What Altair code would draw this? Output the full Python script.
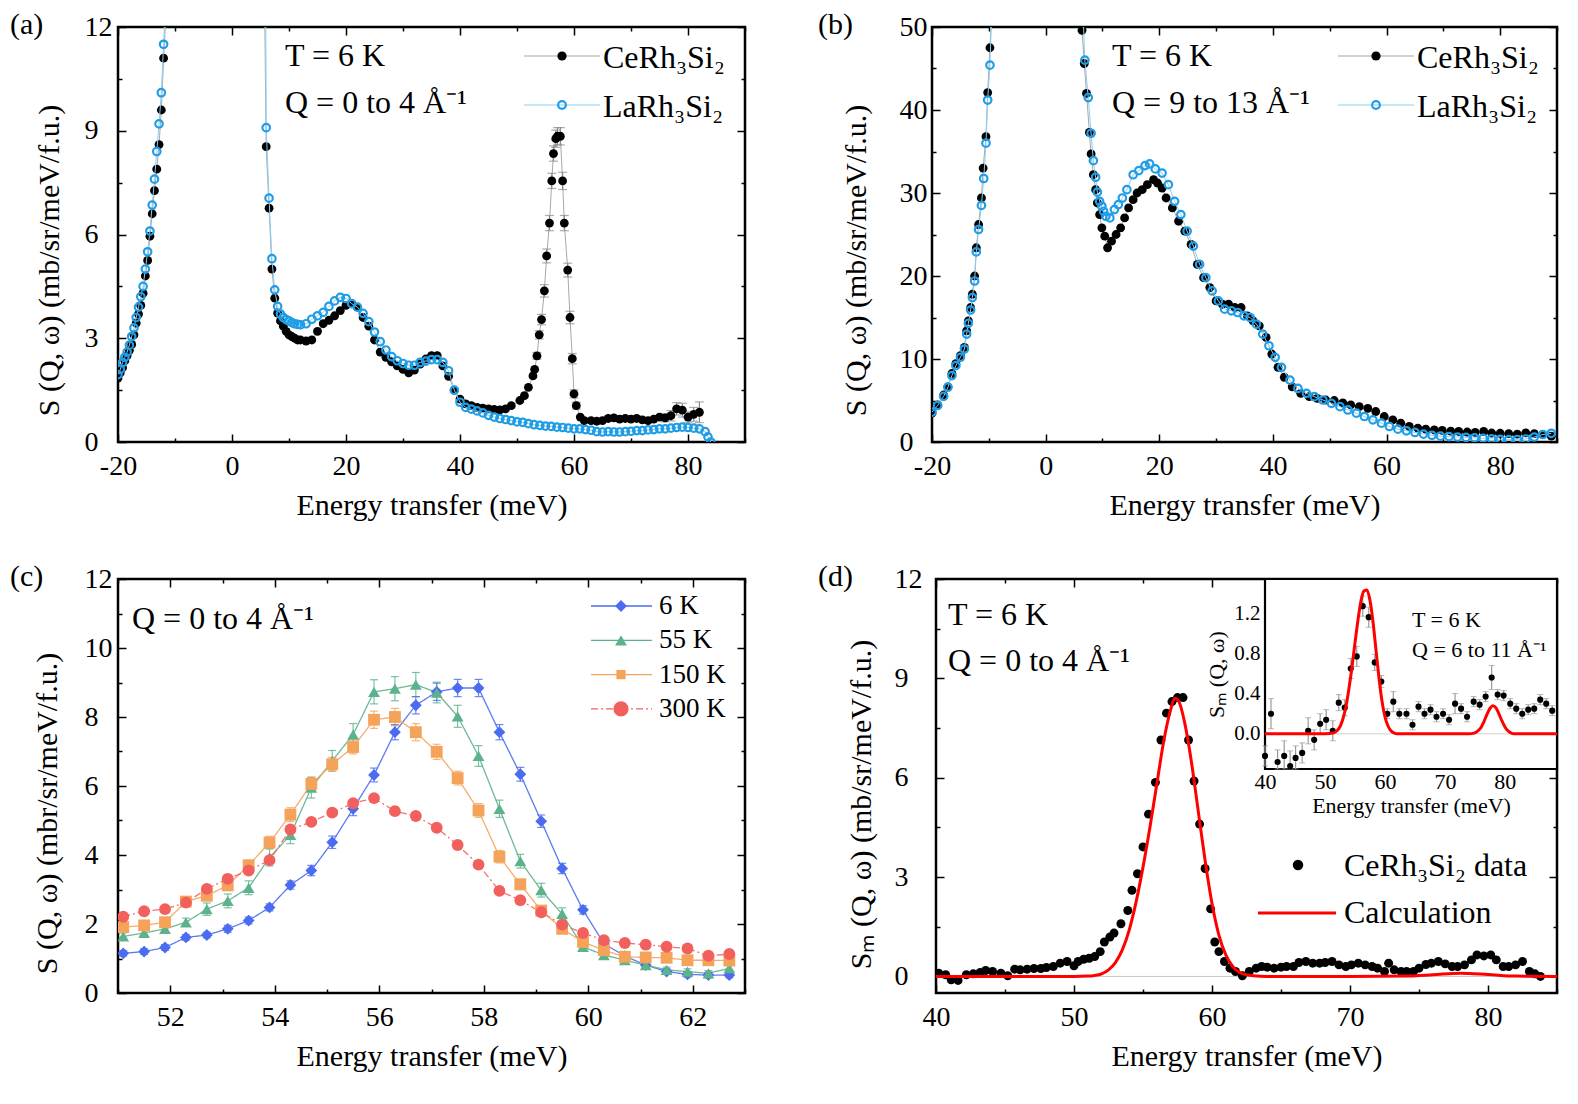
import altair as alt
import pandas as pd

FONT = "Liberation Serif"
TICK_FS = 28
TITLE_FS = 30
ANN_FS = 32
TK = 8
TKm = 4

CE = "CeRh\u2083Si\u2082"
LA = "LaRh\u2083Si\u2082"
AINV = "\u00c5\u207b\u00b9"
XT = "Energy transfer (meV)"

# ---------------- panel (a) data: Q = 0-4 A^-1 ----------------
A_CE_E = [-20.0, -19.6, -19.2, -18.8, -18.4, -18.0, -17.6, -17.2, -16.8, -16.4, -16.0, -15.6, -15.2,
          -14.8, -14.4, -14.0, -13.6, -13.2, -12.8, -12.4, -12.0, -11.6, -11.0, -10.0, 0.0, 5.5,
          6.0, 6.5, 7.0, 7.5, 8.0, 8.5, 9.0, 9.5, 10.0, 10.5, 11.0, 11.5, 12.0,
          13, 14, 15, 16, 17, 18, 19, 20, 21, 22, 23, 24, 25, 26, 27, 28, 29, 30, 31, 32, 33, 34, 35,
          36, 37, 38, 39, 40, 41, 42, 43, 44, 45, 46, 47, 48, 49,
          50.5, 51.3, 52.0, 52.8, 53.1, 53.5, 53.9, 54.3, 54.8, 55.2, 55.7, 56.1, 56.4, 56.8, 57.1,
          57.6, 58.0, 58.3, 58.9, 59.3, 59.7, 60.0, 60.4, 61.1, 61.8,
          63, 64, 65, 66, 67, 68, 69, 70, 71, 72, 73, 74, 75, 76, 77, 78, 79, 80, 81, 82]
A_CE_V = [1.85, 2.0, 2.15, 2.35, 2.5, 2.65, 2.82, 3.1, 3.44, 3.7, 3.95, 4.3, 4.8, 5.25, 5.95, 6.6,
          7.27, 7.89, 8.6, 9.6, 11.1, 12.3, 15, 22, 300, 16,
          8.54, 6.76, 5.0, 4.16, 3.73, 3.5, 3.35, 3.2, 3.1, 3.05, 3.0, 2.95, 2.95,
          2.92, 2.95, 3.2, 3.42, 3.52, 3.65, 3.8, 3.95, 4.0, 3.9, 3.6, 3.35, 2.95, 2.6, 2.45, 2.32,
          2.2, 2.1, 2.0, 2.08, 2.25, 2.4, 2.5, 2.5, 2.2, 1.9, 1.5, 1.24, 1.1, 1.05, 1.0, 0.98, 0.96,
          0.94, 0.93, 0.96, 1.05,
          1.2, 1.34, 1.58, 1.91, 2.1, 2.49, 3.1, 3.54, 4.37, 5.38, 6.33, 7.55, 8.34, 8.77, 8.84, 8.84,
          7.55, 6.33, 4.97, 3.6, 2.41, 1.39, 1.05, 0.72, 0.62,
          0.62, 0.6, 0.62, 0.68, 0.7, 0.66, 0.68, 0.66, 0.68, 0.64, 0.62, 0.66, 0.72, 0.7, 0.76, 0.96,
          0.92, 0.72, 0.8, 0.86]
A_CE_ERR_E = [53.5, 53.9, 54.3, 54.8, 55.2, 55.7, 56.1, 56.4, 56.8, 57.1, 57.6, 58.0, 58.3, 58.9,
              59.3, 59.7, 60.0, 60.4, 76, 77, 78, 79, 80, 81, 82]
A_CE_ERR = [0.1, 0.12, 0.15, 0.18, 0.2, 0.22, 0.22, 0.22, 0.25, 0.25, 0.25, 0.25, 0.22, 0.2, 0.18,
            0.15, 0.12, 0.1, 0.12, 0.15, 0.18, 0.2, 0.15, 0.2, 0.3]
A_LA_E = [-20.0, -19.6, -19.2, -18.8, -18.4, -18.0, -17.6, -17.2, -16.8, -16.4, -16.0, -15.6, -15.2,
          -14.8, -14.4, -14.0, -13.6, -13.2, -12.8, -12.4, -12.0, -11.6, -11.0, -10.0, 0.0, 5.5,
          6.0, 6.5, 7.0, 7.5, 8.0, 8.5, 9.0, 9.5, 10.0, 10.5, 11.0, 11.5, 12.0,
          13, 14, 15, 16, 17, 18, 19, 20, 21, 22, 23, 24, 25, 26, 27, 28, 29, 30, 31, 32, 33, 34, 35,
          36, 37, 38, 39, 40, 41, 42, 43, 44, 45, 46, 47, 48, 49, 50, 51, 52, 53, 54, 55, 56, 57, 58,
          59, 60, 61, 62, 63, 64, 65, 66, 67, 68, 69, 70, 71, 72, 73, 74, 75, 76, 77, 78, 79, 80, 81,
          82, 83, 83.5, 84.0]
A_LA_V = [1.95, 2.1, 2.3, 2.45, 2.6, 2.8, 3.05, 3.3, 3.6, 3.9, 4.2, 4.5, 5.0, 5.5, 6.1, 6.85, 7.6,
          8.4, 9.2, 10.1, 11.5, 13.0, 16, 23, 320, 30,
          9.09, 7.05, 5.3, 4.4, 3.92, 3.7, 3.6, 3.54, 3.5, 3.45, 3.42, 3.4, 3.39,
          3.42, 3.55, 3.65, 3.75, 3.92, 4.08, 4.18, 4.15, 4.0, 3.9,
          3.72, 3.48, 3.18, 2.9, 2.66, 2.47, 2.35, 2.27, 2.22, 2.22,
          2.3, 2.34, 2.38, 2.38, 2.3, 2.06, 1.5, 1.15, 1.0, 0.95,
          0.9, 0.84, 0.77, 0.72, 0.68, 0.65, 0.62, 0.58, 0.57, 0.53,
          0.5, 0.48, 0.46, 0.45, 0.43, 0.42, 0.4, 0.38, 0.38, 0.36,
          0.34, 0.3, 0.29, 0.3, 0.29, 0.29, 0.3, 0.31, 0.33, 0.33,
          0.35, 0.36, 0.38, 0.38, 0.4, 0.42, 0.43, 0.42, 0.4, 0.38,
          0.3, 0.15, 0.0]

# ---------------- panel (b) data: Q = 9-13 A^-1 ----------------
B_CE_E = [-20.0, -19.0, -17.95, -17.2, -16.5, -15.8, -15.0, -14.3, -13.9, -13.6, -13.2, -12.9, -12.5,
          -12.2, -11.8, -11.3, -11.0, -10.5, -10.2, -9.8, -9.0, 0.0, 5.5,
          6.4, 6.8, 7.2, 7.7, 8.0, 8.4, 8.8, 9.1, 9.5, 9.9, 10.4, 10.9, 11.6, 12.4, 13.2, 13.9, 14.6,
          15.4, 16.1, 17.0, 17.9, 19.0, 19.7, 20.5, 21.2, 22.3, 23.4, 24.5, 25.6, 26.7, 27.8, 28.9,
          30.0, 31.1, 32.2, 33.3, 34.4, 35.5, 36.5, 37.6, 38.8, 39.8, 40.9, 42.0, 43.4, 44.9, 46.4,
          47.8, 49.3, 50.8, 52.3, 53.7, 55.2, 56.7, 58.1, 59.6, 61.1, 62.5, 64.0, 65.5, 66.9, 68.4,
          69.8, 71.3, 72.7, 74.2, 75.6, 77.1, 78.5, 80.0, 81.5, 83.0, 84.5, 86.0, 87.5, 89.0]
B_CE_V = [3.47, 4.46, 5.66, 6.65, 8.25, 9.44, 10.4, 11.4, 13.4, 14.6, 16.2, 17.8, 20.0, 23.4, 26.2,
          29.4, 33.0, 36.8, 42.1, 47.5, 60, 800, 75,
          49.6, 45.6, 42.0, 37.3, 34.7, 32.2, 30.4, 28.8, 27.4, 25.8, 24.8, 23.4, 24.2, 25.0, 25.8,
          27.0, 28.2, 29.2, 30.0, 30.4, 31.0, 31.6, 31.2, 30.6, 29.4, 28.2, 26.6, 25.4, 23.8, 21.4,
          19.8, 18.6, 17.0, 16.6, 16.6, 16.2, 16.2, 15.2, 14.6, 14.0, 12.6, 10.6, 9.0, 7.8, 6.65,
          5.86, 5.46, 5.26, 5.06, 5.0, 4.7, 4.46, 4.26, 4.06, 3.67, 3.07, 2.67, 2.27, 1.87, 1.67,
          1.55, 1.45, 1.4, 1.32, 1.27, 1.2, 1.16, 1.27, 1.08, 1.05, 1.0, 0.95, 1.1, 1.0, 0.9, 0.7]
B_LA_E = [-20.0, -19.0, -17.95, -17.2, -16.5, -15.8, -15.0, -14.3, -13.9, -13.6, -13.2, -12.9, -12.5,
          -12.2, -11.8, -11.3, -10.9, -10.5, -10.2, -9.8, -9.0, 0.0, 6.0,
          6.9, 7.5, 8.0, 8.4, 8.8, 9.1, 9.5, 9.9, 10.2, 10.6, 11.3, 12.1, 12.8, 13.5, 14.3, 15.4,
          16.4, 17.5, 18.3, 19.3, 20.5, 21.6, 22.7, 23.8, 24.9, 26.0, 27.1, 28.2, 29.3, 30.4, 31.5,
          32.7, 33.8, 34.9, 36.0, 37.1, 38.2, 39.3, 40.4, 41.5, 43.0, 44.4, 45.9, 47.3, 48.8, 50.3,
          51.8, 53.2, 54.7, 56.1, 57.6, 59.1, 60.5, 62.0, 63.5, 65.0, 66.5, 68.0, 69.5, 71.0, 72.5,
          74.0, 75.5, 77.0, 78.5, 80.0, 81.5, 83.0, 84.5, 86.0, 87.5, 89.0]
B_LA_V = [3.6, 4.4, 5.5, 6.6, 8.0, 9.2, 10.2, 11.2, 13.0, 14.3, 15.9, 17.4, 19.4, 22.9, 25.6, 28.5,
          31.75, 36.0, 41.2, 45.4, 62, 800, 62,
          46.0, 41.5, 37.2, 33.9, 31.9, 30.1, 29.0, 28.4, 27.8, 27.2, 27.0, 28.0, 28.6, 29.4, 30.4,
          32.2, 32.7, 33.3, 33.5, 32.9, 32.4, 31.0, 29.0, 27.4, 25.4, 23.6, 21.4, 19.8, 18.2, 17.0,
          16.0, 15.8, 15.6, 15.2, 15.0, 14.2, 13.0, 11.6, 10.2, 9.0, 7.45, 6.45, 5.86, 5.46, 5.06,
          4.66, 4.26, 3.86, 3.47, 3.07, 2.67, 2.27, 1.87, 1.55, 1.35, 1.15, 0.95, 0.8, 0.7, 0.65,
          0.6, 0.55, 0.5, 0.45, 0.38, 0.32, 0.28, 0.3, 0.36, 0.6, 0.9, 1.05]

# ---------------- panel (c) data: temperature dependence ----------------
C_E = [51.1, 51.5, 51.9, 52.3, 52.7, 53.1, 53.5, 53.9, 54.3, 54.7, 55.1, 55.5, 55.9, 56.3, 56.7,
       57.1, 57.5, 57.9, 58.3, 58.7, 59.1, 59.5, 59.9, 60.3, 60.7, 61.1, 61.5, 61.9, 62.3, 62.7]
C_T = ["6 K", "55 K", "150 K", "300 K"]
C_6K = [1.15, 1.2, 1.32, 1.61, 1.68, 1.86, 2.1, 2.48, 3.13, 3.55, 4.37, 5.34, 6.32, 7.56, 8.34, 8.73,
        8.84, 8.84, 7.56, 6.34, 4.98, 3.61, 2.41, 1.43, 1.07, 0.81, 0.62, 0.54, 0.52, 0.52]
C_55K = [1.64, 1.74, 1.86, 2.05, 2.43, 2.67, 3.05, 3.93, 4.58, 5.95, 6.73, 7.49, 8.73, 8.82, 8.94,
         8.71, 8.02, 6.87, 5.34, 3.82, 2.98, 2.29, 1.34, 1.1, 0.95, 0.81, 0.67, 0.62, 0.57, 0.72]
C_150K = [1.91, 1.96, 2.05, 2.65, 2.82, 3.12, 3.7, 4.36, 5.17, 6.06, 6.63, 7.13, 7.92, 8.0, 7.56,
          6.99, 6.23, 5.29, 3.95, 3.15, 2.39, 1.86, 1.48, 1.24, 1.05, 1.03, 1.02, 0.95, 0.95, 0.94]
C_300K = [2.21, 2.37, 2.43, 2.62, 3.02, 3.31, 3.55, 3.85, 4.74, 4.96, 5.23, 5.5, 5.65, 5.27, 5.13,
          4.79, 4.29, 3.72, 2.96, 2.69, 2.34, 1.98, 1.74, 1.53, 1.45, 1.4, 1.34, 1.29, 1.08, 1.13]
C_6K_ERR = [0.08, 0.08, 0.08, 0.08, 0.08, 0.1, 0.1, 0.1, 0.12, 0.15, 0.18, 0.2, 0.2, 0.22, 0.25,
            0.25, 0.25, 0.25, 0.22, 0.2, 0.18, 0.15, 0.12, 0.1, 0.08, 0.08, 0.08, 0.08, 0.08, 0.08]
C_55K_ERR = [0.1, 0.1, 0.1, 0.12, 0.18, 0.2, 0.2, 0.25, 0.25, 0.3, 0.3, 0.32, 0.35, 0.35, 0.35,
             0.3, 0.32, 0.3, 0.25, 0.2, 0.2, 0.18, 0.12, 0.1, 0.1, 0.08, 0.08, 0.08, 0.08, 0.08]
C_150K_ERR = [0.1, 0.1, 0.1, 0.12, 0.12, 0.15, 0.15, 0.18, 0.2, 0.2, 0.2, 0.2, 0.25, 0.25, 0.25,
              0.22, 0.2, 0.2, 0.18, 0.15, 0.12, 0.12, 0.1, 0.1, 0.08, 0.08, 0.08, 0.08, 0.08, 0.08]
C_300K_ERR = [0.1, 0.1, 0.1, 0.1, 0.1, 0.1, 0.1, 0.1, 0.1, 0.1, 0.1, 0.1, 0.1, 0.1, 0.1,
              0.1, 0.1, 0.1, 0.1, 0.1, 0.1, 0.1, 0.1, 0.1, 0.1, 0.1, 0.1, 0.1, 0.1, 0.1]
C_COLORS = ["#4b6cf0", "#5cb38b", "#f5a35b", "#f2605e"]
C_SHAPES = ["diamond", "triangle-up", "square", "circle"]
C_SIZES = [140, 140, 85, 230]

# ---------------- panel (d) data: magnetic scattering ----------------
D_E = [40.2, 40.7, 41.1, 41.6, 42.2, 42.7, 43.2, 43.6, 44.1, 44.7, 45.2, 45.7, 46.1, 46.6, 47.1, 47.6,
       48.0, 48.5, 49.0, 49.5, 50.0, 50.3, 50.7, 51.1, 51.5, 51.9, 52.2, 52.6, 52.9, 53.4, 53.9, 54.2,
       54.6, 55.0, 55.4, 55.9, 56.3, 56.7, 57.1, 57.5, 57.9, 58.3, 58.7, 59.1, 59.5, 59.9, 60.2, 60.5,
       60.9, 61.3, 61.7, 62.2, 62.7, 63.2, 63.6, 64.0, 64.5, 65.0, 65.4, 65.9, 66.3, 66.8, 67.3, 67.8,
       68.2, 68.7, 69.2, 69.7, 70.1, 70.6, 71.1, 71.6, 72.0, 72.5, 72.8, 73.2, 73.7, 74.1, 74.6, 75.0,
       75.5, 75.9, 76.4, 76.9, 77.4, 77.8, 78.3, 78.8, 79.2, 79.7, 80.2, 80.6, 81.1, 81.5, 82.0, 82.5,
       83.0, 83.4, 83.8]
D_V = [0.1, 0.05, -0.1, -0.12, 0.05, 0.08, 0.12, 0.18, 0.15, 0.1, 0.02, 0.22, 0.2, 0.22, 0.24, 0.24,
       0.27, 0.3, 0.4, 0.45, 0.32, 0.45, 0.52, 0.55, 0.6, 0.75, 1.04, 1.19, 1.31, 1.59, 1.99, 2.6,
       3.1, 3.91, 4.9, 5.86, 7.14, 7.95, 8.3, 8.42, 8.42, 7.14, 5.9, 4.6, 3.26, 2.04, 1.04, 0.75,
       0.45, 0.25, 0.15, 0.02, 0.15, 0.25, 0.3, 0.28, 0.25, 0.28, 0.3, 0.3, 0.42, 0.45, 0.4, 0.4,
       0.42, 0.45, 0.35, 0.3, 0.35, 0.4, 0.35, 0.3, 0.25, 0.15, 0.4, 0.2, 0.15, 0.15, 0.15, 0.25,
       0.36, 0.4, 0.45, 0.38, 0.3, 0.3, 0.35, 0.5, 0.65, 0.62, 0.65, 0.5, 0.3, 0.3, 0.35, 0.45,
       0.15, 0.08, 0.0]
D_CALC_E = [40, 45, 50, 51, 51.5, 52, 52.5, 53, 53.5, 54, 54.5, 55, 55.5, 56, 56.5, 57, 57.3, 57.6, 58,
            58.5, 59, 59.5, 60, 60.5, 61, 61.5, 62, 62.5, 63, 64, 70, 74, 76, 78, 80, 82, 85]
D_CALC_V = [0, 0, 0, 0.01, 0.03, 0.08, 0.2, 0.42, 0.8, 1.4, 2.25, 3.3, 4.5, 5.8, 7.1, 8.05, 8.4, 8.3,
            7.7, 6.5, 5.0, 3.5, 2.2, 1.25, 0.65, 0.3, 0.12, 0.05, 0.02, 0, 0, 0.01, 0.05, 0.1, 0.06,
            0.01, 0]
# inset: Q = 6-11 A^-1
IN_E = [40.0, 41.0, 42.1, 43.2, 44.2, 45.1, 46.2, 47.2, 48.2, 49.2, 50.2, 51.3, 52.3, 53.3, 54.3,
        55.3, 56.3, 57.3, 58.3, 59.4, 60.4, 61.4, 62.4, 63.6, 64.6, 65.6, 66.6, 67.6, 68.6, 69.7,
        70.7, 71.7, 72.7, 73.7, 74.8, 75.8, 76.8, 77.8, 78.8, 79.8, 80.9, 81.9, 82.9, 83.9, 84.9,
        85.9, 86.9, 87.9]
IN_V = [-0.22, 0.2, -0.28, -0.22, -0.32, -0.24, -0.19, 0.03, -0.06, 0.1, 0.14, 0.03, 0.31, 0.26,
        0.65, 0.77, 1.27, 1.16, 0.71, 0.52, 0.2, 0.32, 0.2, 0.2, 0.09, 0.27, 0.2, 0.24, 0.17, 0.2,
        0.14, 0.3, 0.25, 0.17, 0.32, 0.29, 0.37, 0.56, 0.39, 0.38, 0.3, 0.25, 0.2, 0.24, 0.25, 0.34,
        0.3, 0.23]
IN_ERR = [0.1, 0.15, 0.12, 0.15, 0.15, 0.12, 0.1, 0.13, 0.1, 0.1, 0.1, 0.1, 0.08, 0.08, 0.1, 0.1,
          0.1, 0.1, 0.08, 0.06, 0.05, 0.1, 0.05, 0.05, 0.05, 0.05, 0.05, 0.05, 0.05, 0.05, 0.05, 0.1,
          0.05, 0.05, 0.05, 0.05, 0.05, 0.12, 0.05, 0.05, 0.05, 0.05, 0.05, 0.05, 0.05, 0.05, 0.05,
          0.05]
IN_CALC_E = [40, 50, 51.5, 52, 52.5, 53, 53.5, 54, 54.5, 55, 55.5, 56, 56.5, 57, 57.5, 58, 58.5, 59,
             59.5, 60, 60.5, 61, 61.5, 62, 74, 75, 75.5, 76, 76.5, 77, 77.5, 78, 78.5, 79, 79.5, 80,
             80.5, 81, 81.5, 88.7]
IN_CALC_V = [0, 0, 0.01, 0.03, 0.07, 0.15, 0.27, 0.45, 0.66, 0.9, 1.13, 1.32, 1.42, 1.43, 1.33, 1.12,
             0.84, 0.56, 0.33, 0.17, 0.08, 0.03, 0.01, 0, 0, 0.01, 0.03, 0.06, 0.12, 0.19, 0.25, 0.28,
             0.26, 0.2, 0.13, 0.07, 0.03, 0.01, 0, 0]

# ---------------- layout constants ----------------
W_A, H_A = 627, 415
W_B, H_B = 625, 415
W_C, H_C = 627, 414
W_D, H_D = 621, 414
IN_X0, IN_Y1 = 329, 190
ONE = pd.DataFrame({"k": [0]})


def sc(dom, rng=None, clamp=False):
    kw = dict(domain=dom, nice=False, zero=False)
    if rng is not None:
        kw["range"] = rng
    if clamp:
        kw["clamp"] = True
    return alt.Scale(**kw)


def xaxis(values, title):
    return alt.Axis(orient="bottom", values=values, title=title, offset=-TK, tickSize=TK,
                    tickWidth=1.5, tickColor="black", domain=False, grid=False,
                    labelFontSize=TICK_FS, labelPadding=10, labelExpr="datum.value + ''",
                    titleFontSize=TITLE_FS, titlePadding=10, labelFlush=False, labelOverlap=False,
                    titleFontWeight="normal")


def yaxis(values, title, lpad, tpad, ty):
    return alt.Axis(orient="left", values=values, title=title, offset=-TK, tickSize=TK,
                    tickWidth=1.5, tickColor="black", domain=False, grid=False,
                    labelFontSize=TICK_FS, labelPadding=lpad, labelAlign="left",
                    labelExpr="datum.value + ''", titleFontSize=TITLE_FS, titlePadding=tpad,
                    titleY=ty, labelFlush=False, labelOverlap=False, titleFontWeight="normal")


def guides(xdom, ydom, xmaj, ymaj, xmin, ymin):
    out = []
    d = pd.DataFrame({"gx": [xdom[0]], "gy": [ydom[0]]})
    for xo, yo, xv, yv, sz in [("bottom", "left", xmin, ymin, TKm),
                               ("top", "right", xmaj, ymaj, TK),
                               ("top", "right", xmin, ymin, TKm)]:
        out.append(alt.Chart(d).mark_point(opacity=0).encode(
            x=alt.X("gx:Q", scale=sc(xdom), axis=alt.Axis(
                orient=xo, values=xv, labels=False, title=None, domain=False, grid=False,
                tickSize=sz, offset=-sz, tickWidth=1.5, tickColor="black")),
            y=alt.Y("gy:Q", scale=sc(ydom), axis=alt.Axis(
                orient=yo, values=yv, labels=False, title=None, domain=False, grid=False,
                tickSize=sz, offset=-sz, tickWidth=1.5, tickColor="black"))))
    return out


def txt(s, x, y, size=ANN_FS, align="left", color="black"):
    return alt.Chart(ONE).mark_text(text=s, font=FONT, fontSize=size, align=align,
                                    baseline="middle", color=color).encode(
        x=alt.value(x), y=alt.value(y))


def leg_line(x1, x2, y, color, width=1.2):
    return alt.Chart(ONE).mark_rule(color=color, strokeWidth=width).encode(
        x=alt.value(x1), x2=alt.value(x2), y=alt.value(y))


def leg_sym(x, y, shape, color, size, filled=True, sw=1.0):
    return alt.Chart(ONE).mark_point(shape=shape, color=color, size=size, filled=filled,
                                     opacity=1, strokeWidth=sw).encode(
        x=alt.value(x), y=alt.value(y))


def panel(layers, w, h, xdom, ydom, xmaj, ymaj, xmin, ymin, extra=()):
    parts = [alt.layer(*layers)] + guides(xdom, ydom, xmaj, ymaj, xmin, ymin) + list(extra)
    return alt.layer(*parts).resolve_scale(x="independent", y="independent").properties(
        width=w, height=h)


YT = "S (Q, \u03c9) (mb/sr/meV/f.u.)"
BLUE = "#1f9de6"
BLUE_L = "#8ccff4"
GRAY = "#a8a8a8"


def ce_la_panel(ce_e, ce_v, la_e, la_v, ydom, ymaj, ymin, w, h, lab, labx, ttl_x, qtxt,
                lpad, tpad, err_df=None):
    xdom = [-20, 90]
    xmaj = [-20, 0, 20, 40, 60, 80]
    xmin = [-10, 10, 30, 50, 70, 90]
    ce = pd.DataFrame({"E": ce_e, "v": ce_v})
    la = pd.DataFrame({"E": la_e, "v": la_v})
    X = lambda f="E": alt.X(f"{f}:Q", scale=sc(xdom), axis=xaxis(xmaj, XT))
    Y = lambda f="v": alt.Y(f"{f}:Q", scale=sc(ydom), axis=yaxis(ymaj, YT, lpad, tpad, 233))
    layers = [alt.Chart(ce).mark_line(color=GRAY, strokeWidth=1, clip=True).encode(x=X(), y=Y())]
    if err_df is not None:
        layers.append(alt.Chart(err_df).mark_rule(color="#8a8a8a", strokeWidth=1.2, clip=True)
                      .encode(x=X(), y=Y("lo"), y2="hi:Q"))
        layers.append(alt.Chart(err_df).mark_tick(orient="horizontal", size=9, thickness=1.2,
                                                  color="#8a8a8a", clip=True)
                      .encode(x=X(), y=Y("lo")))
        layers.append(alt.Chart(err_df).mark_tick(orient="horizontal", size=9, thickness=1.2,
                                                  color="#8a8a8a", clip=True)
                      .encode(x=X(), y=Y("hi")))
    layers += [
        alt.Chart(ce).mark_circle(color="black", size=78, opacity=1, clip=True).encode(x=X(), y=Y()),
        alt.Chart(la).mark_line(color=BLUE_L, strokeWidth=1, clip=True).encode(x=X(), y=Y()),
        alt.Chart(la).mark_point(shape="circle", filled=False, color=BLUE, size=56,
                                 strokeWidth=2.2, opacity=1, clip=True).encode(x=X(), y=Y()),
        txt(lab, labx, -2, size=30),
        txt("T = 6 K", ttl_x, 29),
        txt(qtxt, ttl_x, 76),
        leg_line(406, 482, 29, GRAY),
        leg_sym(444, 29, "circle", "black", 85),
        txt(CE, 485, 31),
        leg_line(406, 482, 78, BLUE_L),
        leg_sym(444, 78, "circle", BLUE, 60, filled=False, sw=2.2),
        txt(LA, 485, 80),
    ]
    return panel(layers, w, h, xdom, ydom, xmaj, ymaj, xmin, ymin)


# ---------- (a) ----------
ce_lookup = dict(zip(A_CE_E, A_CE_V))
a_err = pd.DataFrame({"E": A_CE_ERR_E,
                      "lo": [ce_lookup[e] - s for e, s in zip(A_CE_ERR_E, A_CE_ERR)],
                      "hi": [ce_lookup[e] + s for e, s in zip(A_CE_ERR_E, A_CE_ERR)]})
pa = ce_la_panel(A_CE_E, A_CE_V, A_LA_E, A_LA_V, [0, 12], [0, 3, 6, 9, 12], [1.5, 4.5, 7.5, 10.5],
                 W_A, H_A, "(a)", -108, 167, "Q = 0 to 4  " + AINV, 34, 20, err_df=a_err)

# ---------- (b) ----------
pb = ce_la_panel(B_CE_E, B_CE_V, B_LA_E, B_LA_V, [0, 50], [0, 10, 20, 30, 40, 50],
                 [5, 15, 25, 35, 45], W_B, H_B, "(b)", -114, 180, "Q = 9 to 13  " + AINV, 33, 28)

# ---------- (c) ----------
rows = []
for t, vals, errs in zip(C_T, [C_6K, C_55K, C_150K, C_300K],
                         [C_6K_ERR, C_55K_ERR, C_150K_ERR, C_300K_ERR]):
    for e, v, s in zip(C_E, vals, errs):
        rows.append({"T": t, "E": e, "v": v, "lo": v - s, "hi": v + s})
cdf = pd.DataFrame(rows)
c_xdom, c_ydom = [51, 63], [0, 12]
c_xmaj = [52, 54, 56, 58, 60, 62]
c_ymaj = [0, 2, 4, 6, 8, 10, 12]
CX = lambda: alt.X("E:Q", scale=sc(c_xdom), axis=xaxis(c_xmaj, XT))
CY = lambda f="v": alt.Y(f"{f}:Q", scale=sc(c_ydom),
                         axis=yaxis(c_ymaj, "S (Q, \u03c9) (mbr/sr/meV/f.u.)", 34, 22, 234))
ccol = alt.Color("T:N", scale=alt.Scale(domain=C_T, range=C_COLORS), legend=None)
c_layers = [
    alt.Chart(cdf).mark_line(strokeWidth=1.3, opacity=0.9, clip=True).encode(
        x=CX(), y=CY(), color=ccol,
        strokeDash=alt.StrokeDash("T:N", scale=alt.Scale(domain=C_T, range=[[1, 0], [1, 0], [1, 0], [7, 3, 2, 3]]), legend=None)),
    alt.Chart(cdf).mark_rule(strokeWidth=1.2, opacity=0.8, clip=True).encode(
        x=CX(), y=CY("lo"), y2="hi:Q", color=ccol),
    alt.Chart(cdf).mark_tick(orient="horizontal", size=8, thickness=1.2, opacity=0.8, clip=True).encode(
        x=CX(), y=CY("lo"), color=ccol),
    alt.Chart(cdf).mark_tick(orient="horizontal", size=8, thickness=1.2, opacity=0.8, clip=True).encode(
        x=CX(), y=CY("hi"), color=ccol),
    alt.Chart(cdf).mark_point(filled=True, opacity=1, clip=True).encode(
        x=CX(), y=CY(), color=ccol,
        shape=alt.Shape("T:N", scale=alt.Scale(domain=C_T, range=C_SHAPES), legend=None),
        size=alt.Size("T:N", scale=alt.Scale(domain=C_T, range=C_SIZES), legend=None)),
    txt("(c)", -108, -2, size=30),
    txt("Q = 0 to 4  " + AINV, 14, 40),
]
for i, (t, col, shp, sz) in enumerate(zip(C_T, C_COLORS, C_SHAPES, C_SIZES)):
    yy = 27 + i * 34.3
    dash = [7, 3, 2, 3] if t == "300 K" else [1, 0]
    c_layers.append(alt.Chart(ONE).mark_rule(color=col, strokeWidth=1.3, strokeDash=dash).encode(
        x=alt.value(473), x2=alt.value(534), y=alt.value(yy)))
    c_layers.append(leg_sym(503, yy, shp, col, sz))
    c_layers.append(txt(t, 541, yy, size=27))
pc = panel(c_layers, W_C, H_C, c_xdom, c_ydom, c_xmaj, c_ymaj,
           [51, 53, 55, 57, 59, 61, 63], [1, 3, 5, 7, 9, 11])

# ---------- (d) ----------
d_xdom, d_ydom = [40, 85], [-0.5, 12]
d_xmaj = [40, 50, 60, 70, 80]
d_ymaj = [0, 3, 6, 9, 12]
ddf = pd.DataFrame({"E": D_E, "v": D_V})
dcalc = pd.DataFrame({"E": D_CALC_E, "v": D_CALC_V})
DX = lambda: alt.X("E:Q", scale=sc(d_xdom), axis=xaxis(d_xmaj, XT))
DY = lambda: alt.Y("v:Q", scale=sc(d_ydom),
                   axis=yaxis(d_ymaj, "S\u2098 (Q, \u03c9) (mb/sr/meV/f.u.)", 42, 18, 225))
d_layers = [
    alt.Chart(ONE).mark_rule(color="#c8c8c8", strokeWidth=1).encode(y=alt.datum(0)),
    alt.Chart(ddf).mark_circle(color="black", size=80, opacity=1, clip=True).encode(x=DX(), y=DY()),
    alt.Chart(dcalc).mark_line(color="#ff0000", strokeWidth=3, interpolate="monotone", clip=True)
    .encode(x=DX(), y=DY()),
    txt("(d)", -118, -2, size=30),
    txt("T = 6 K", 12, 36),
    txt("Q = 0 to 4  " + AINV, 12, 82),
    leg_sym(362, 286, "circle", "black", 110),
    txt(CE + " data", 408, 287),
    leg_line(322, 400, 334, "#ff0000", width=3),
    txt("Calculation", 408, 334),
]
# inset
in_xdom, in_ydom = [40, 88.7], [-0.35, 1.54]
IN_XAX = alt.Axis(
    orient="bottom", offset=-(H_D - IN_Y1) - 5, tickSize=5, tickWidth=1.2, tickColor="black",
    values=[40, 50, 60, 70, 80], labelFontSize=22, labelPadding=2, labelExpr="datum.value + ''",
    title=XT, titleFontSize=22, titlePadding=3, domain=False, grid=False, labelFlush=False,
    labelOverlap=False, titleFontWeight="normal")
IN_YAX = alt.Axis(
    orient="left", offset=-IN_X0 - 5, tickSize=5, tickWidth=1.2, tickColor="black",
    values=[0, 0.4, 0.8, 1.2], format=".1f", labelFontSize=21, labelPadding=5,
    title="S\u2098 (Q, \u03c9)", titleFontSize=22, titlePadding=5, domain=False, grid=False,
    labelFlush=False, labelOverlap=False, titleFontWeight="normal")
IXS = sc(in_xdom, [IN_X0, W_D], clamp=True)
IYS = sc(in_ydom, [IN_Y1, 0], clamp=True)
IX = lambda: alt.X("E:Q", scale=IXS, axis=IN_XAX)
IY = lambda f="v": alt.Y(f"{f}:Q", scale=IYS, axis=IN_YAX)
idf = pd.DataFrame({"E": IN_E, "v": IN_V,
                    "lo": [v - s for v, s in zip(IN_V, IN_ERR)],
                    "hi": [v + s for v, s in zip(IN_V, IN_ERR)]})
icalc = pd.DataFrame({"E": IN_CALC_E, "v": IN_CALC_V})
inset = alt.layer(
    alt.Chart(ONE).mark_rect(fill="white", stroke="black", strokeWidth=2.2).encode(
        x=alt.X(datum=in_xdom[0], scale=IXS, axis=IN_XAX),
        x2=alt.X2(datum=in_xdom[1]),
        y=alt.Y(datum=in_ydom[0], scale=IYS, axis=IN_YAX),
        y2=alt.Y2(datum=in_ydom[1])),
    alt.Chart(ONE).mark_rule(color="#d0d0d0", strokeWidth=1).encode(
        x=alt.X(datum=in_xdom[0], scale=IXS, axis=IN_XAX), x2=alt.X2(datum=in_xdom[1]),
        y=alt.Y(datum=0, scale=IYS, axis=IN_YAX)),
    alt.Chart(idf).mark_rule(color="#9a9a9a", strokeWidth=1.2).encode(x=IX(), y=IY("lo"), y2="hi:Q"),
    alt.Chart(idf).mark_tick(orient="horizontal", size=6, thickness=1, color="#9a9a9a").encode(x=IX(), y=IY("lo")),
    alt.Chart(idf).mark_tick(orient="horizontal", size=6, thickness=1, color="#9a9a9a").encode(x=IX(), y=IY("hi")),
    alt.Chart(idf).mark_circle(color="black", size=38, opacity=1).encode(x=IX(), y=IY()),
    alt.Chart(icalc).mark_line(color="#ff0000", strokeWidth=3, interpolate="monotone").encode(x=IX(), y=IY()),
    txt("T = 6 K", 476, 41, size=22),
    txt("Q = 6 to 11  " + AINV, 476, 71, size=22),
)
pd_ = panel(d_layers, W_D, H_D, d_xdom, d_ydom, d_xmaj, d_ymaj,
            [45, 55, 65, 75, 85], [1.5, 4.5, 7.5, 10.5], extra=[inset])

chart = alt.vconcat(
    alt.hconcat(pa, pb, spacing=69),
    alt.hconcat(pc, pd_, spacing=69),
    spacing=38,
).properties(padding=0).configure(font=FONT).configure_view(
    stroke="black", strokeWidth=2.5).configure_axis(
    labelColor="black", titleColor="black", grid=False)

chart.save("out.html", embed_options={"renderer": "svg", "actions": False})
